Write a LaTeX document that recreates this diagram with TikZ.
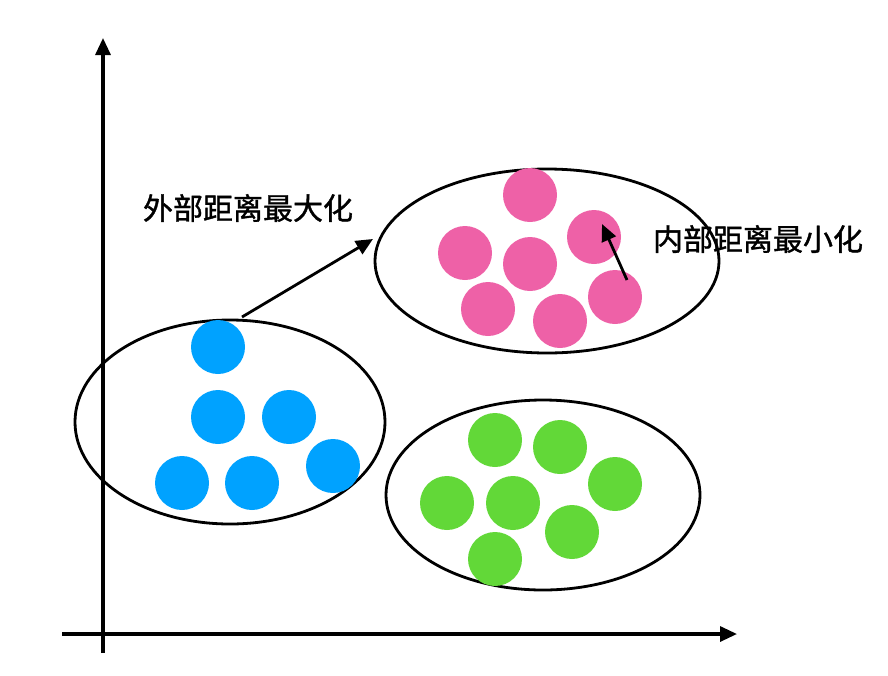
\documentclass[tikz,border=0pt]{standalone}
\usepackage{fontspec}
\newfontfamily\cjk[FakeBold=1.2]{Noto Sans CJK SC}
\usetikzlibrary{arrows.meta}
\definecolor{cblue}{RGB}{0,162,255}
\definecolor{cpink}{RGB}{238,97,167}
\definecolor{cgreen}{RGB}{98,216,56}
\begin{document}
\begin{tikzpicture}[x=1pt,y=-1pt,
  dot/.style={circle,inner sep=0pt,minimum size=54pt,draw=none},
  bdot/.style={dot,fill=cblue},
  pdot/.style={dot,fill=cpink},
  gdot/.style={dot,fill=cgreen},
  grp/.style={draw=black,line width=2.8pt},
  axis/.style={line width=3.2pt,-{Triangle[length=17pt,width=15pt]}},
  arr/.style={line width=2.8pt,-{Triangle[length=17pt,width=15pt]}},
  lbl/.style={font=\cjk\fontsize{30pt}{32pt}\selectfont,inner sep=0pt}]
\useasboundingbox (0,0) rectangle (888,675);
% axes
\coordinate (yb) at (103,653);
\coordinate (yt) at (103,38);
\coordinate (xl) at (62,634);
\coordinate (xr) at (737,634);
\draw[axis] (yb) -- (yt);
\draw[axis] (xl) -- (xr);
% groups
\draw[grp] (230,422) ellipse [x radius=155, y radius=102];
\draw[grp] (547,261) ellipse [x radius=172, y radius=92];
\draw[grp] (543,495) ellipse [x radius=157, y radius=95];
% blue
\node[bdot] (b1) at (218,347) {};
\node[bdot] (b2) at (218,417) {};
\node[bdot] (b3) at (289,417) {};
\node[bdot] (b4) at (182,483) {};
\node[bdot] (b5) at (252,483) {};
\node[bdot] (b6) at (333,466) {};
% pink
\node[pdot] (p1) at (530,195) {};
\node[pdot] (p2) at (465,253) {};
\node[pdot] (p3) at (530,264) {};
\node[pdot] (p4) at (594,237) {};
\node[pdot] (p5) at (488,309) {};
\node[pdot] (p6) at (560,321) {};
\node[pdot] (p7) at (615,297) {};
% green
\node[gdot] (g1) at (495,440) {};
\node[gdot] (g2) at (560,447) {};
\node[gdot] (g3) at (615,484) {};
\node[gdot] (g4) at (447,503) {};
\node[gdot] (g5) at (513,503) {};
\node[gdot] (g6) at (572,532) {};
\node[gdot] (g7) at (495,559) {};
% labels
\node[lbl] (outer) at (248,208) {外部距离最大化};
\node[lbl] (inner) at (758,239) {内部距离最小化};
% arrows
\coordinate (oa) at (242,317);
\coordinate (ob) at (373,239);
\draw[arr] (oa) -- (ob);
\coordinate (ia) at (627,280);
\coordinate (ib) at (602,224);
\draw[arr] (ia) -- (ib);
\end{tikzpicture}
\end{document}
